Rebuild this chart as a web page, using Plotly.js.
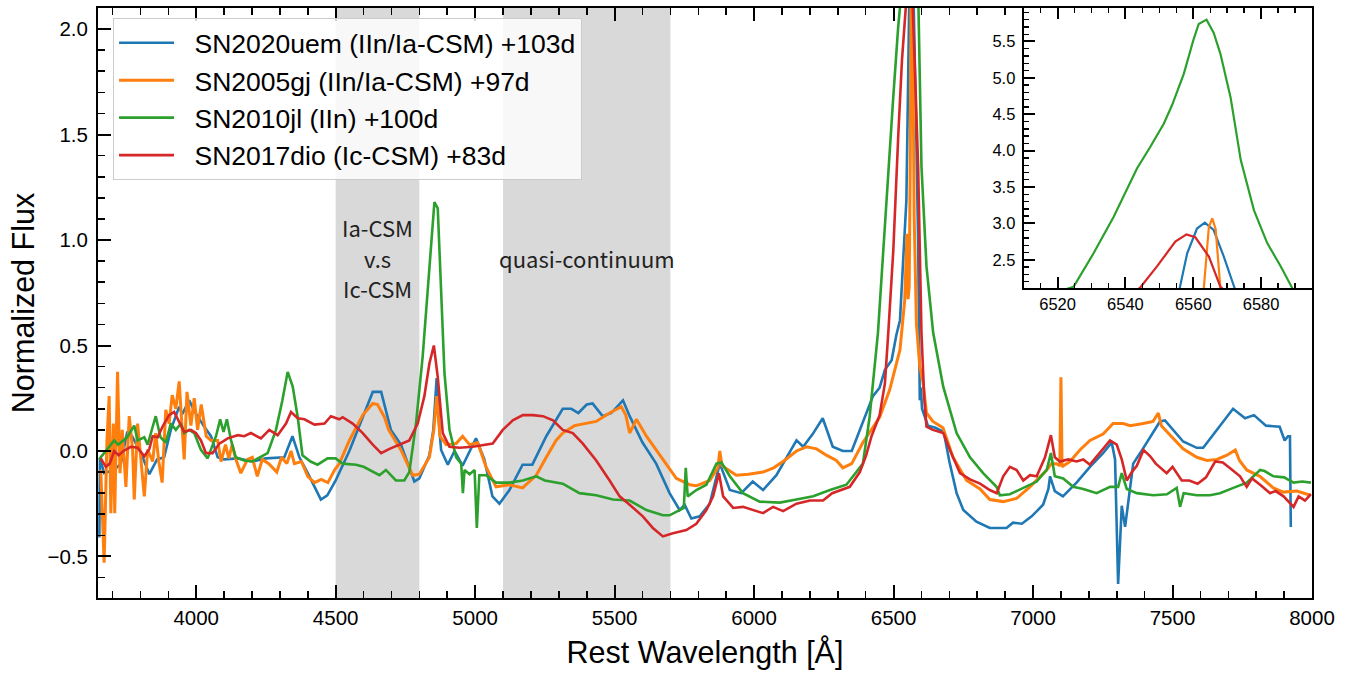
<!DOCTYPE html>
<html>
<head>
<meta charset="utf-8">
<script src="https://cdn.plot.ly/plotly-3.0.1.min.js"></script>
<style>
  html, body { margin: 0; padding: 0; background: #ffffff; }
  #chart { width: 1348px; height: 675px; }
</style>
</head>
<body>
<div id="chart"></div>
<script>
// ---------------- DATA ----------------
const seriesNames = [
  "SN2020uem (IIn/Ia-CSM) +103d",
  "SN2005gj (IIn/Ia-CSM) +97d",
  "SN2010jl (IIn) +100d",
  "SN2017dio (Ic-CSM) +83d"
];

// SN2020uem
const wl_2020uem = [3653,3655,3670,3706,3730,3752,3770,3802,3832,3860,3885,3909,3939,3950,3975,3993,4029,4053,4077,4100,4150,4200,4250,4316,4345,4370,4400,4447,4470,4500,4549,4597,4633,4663,4698,4734,4782,4800,4836,4850,4862,4872,4878,4902,4926,4955,5003,5033,5062,5087,5123,5170,5205,5255,5290,5314,5345,5370,5400,5421,5457,5488,5530,5554,5600,5649,5697,5733,5751,5775,5805,5841,5877,5913,5954,5995,6032,6080,6152,6176,6210,6246,6282,6318,6350,6372,6426,6450,6469,6493,6510,6523,6546,6556,6558.2,6561.1,6563.4,6566,6569,6572.2,6580,6588,6594,6598,6602,6623,6650,6680,6700,6726,6750,6797,6845,6905,6928,6960,6995,7036,7055,7061,7078,7107,7156,7204,7251,7282,7294,7305,7318,7330,7359,7384,7455,7473,7538,7587,7610,7659,7717,7760,7792,7835,7884,7902,7914,7921,7924];
const fl_2020uem = [-0.41,-0.035,-0.105,-0.09,-0.06,0.085,0.07,-0.01,-0.11,-0.04,-0.03,0.10,0.21,0.175,0.24,0.19,0.115,0.07,-0.03,-0.04,-0.035,-0.05,-0.035,-0.03,0.07,-0.03,-0.105,-0.23,-0.21,-0.14,0.0,0.16,0.28,0.28,0.10,0.03,-0.145,-0.13,-0.02,0.10,0.345,0.10,0.005,-0.065,0.0,-0.07,0.06,-0.04,-0.215,-0.25,-0.185,-0.065,-0.065,0.07,0.145,0.20,0.20,0.18,0.22,0.225,0.165,0.18,0.24,0.165,0.04,-0.06,-0.20,-0.28,-0.255,-0.32,-0.31,-0.25,-0.06,-0.185,-0.20,-0.145,-0.185,-0.115,0.05,0.02,0.08,0.155,0.02,0.0,0.0,0.075,0.26,0.30,0.385,0.43,0.55,0.62,1.19,2.11,2.59,2.93,3.01,2.91,2.545,2.11,1.6,1.0,0.24,0.30,0.20,0.12,0.11,0.09,-0.05,-0.20,-0.28,-0.335,-0.365,-0.365,-0.34,-0.345,-0.31,-0.255,-0.18,-0.12,-0.19,-0.215,-0.15,-0.075,-0.01,0.04,-0.04,-0.63,-0.26,-0.36,-0.06,-0.01,0.14,0.145,0.045,0.015,0.015,0.10,0.20,0.155,0.17,0.12,0.115,0.05,0.07,0.07,-0.36];

// SN2005gj
const wl_2005gj = [3658,3670,3680,3688,3694,3703,3708,3718,3727,3735,3748,3760,3772,3778,3790,3802,3814,3826,3844,3855,3866,3878,3891,3903,3914,3927,3939,3948,3957,3967,3981,3993,4005,4018,4036,4053,4077,4089,4105,4117,4129,4141,4160,4184,4201,4219,4237,4260,4289,4306,4325,4340,4352,4377,4400,4424,4448,4472,4496,4513,4549,4597,4633,4650,4675,4690,4734,4776,4800,4836,4852,4862,4874,4896,4932,4955,4980,5009,5039,5075,5123,5170,5219,5255,5290,5314,5356,5374,5434,5482,5524,5540,5554,5578,5614,5673,5721,5769,5793,5841,5870,5877,5885,5936,5980,6032,6070,6104,6152,6188,6224,6259,6295,6318,6350,6390,6420,6450,6486,6523,6540,6548,6552,6556,6560,6563.1,6564.6,6565.6,6566.6,6568,6574,6582,6594,6605,6618,6641,6677,6713,6762,6810,6845,6893,6941,6989,7049,7066,7084,7096,7100,7104,7132,7168,7204,7251,7287,7323,7348,7395,7430,7449,7460,7502,7538,7587,7623,7659,7695,7725,7740,7766,7813,7861,7897,7946,7994];
const fl_2005gj = [-0.09,-0.53,0.05,0.26,-0.295,0.13,-0.295,0.375,-0.105,0.10,-0.17,0.165,0.006,-0.23,0.13,-0.05,-0.215,0.006,-0.05,0.085,-0.05,-0.15,0.195,0.13,0.265,0.20,0.33,0.14,-0.04,0.28,0.12,0.25,0.10,0.22,0.07,0.05,0.05,-0.05,0.03,-0.035,0.03,-0.035,-0.105,-0.04,-0.03,-0.12,-0.04,-0.06,-0.10,-0.03,-0.06,0.0,-0.06,-0.05,-0.12,-0.15,-0.135,-0.15,-0.09,-0.06,0.05,0.17,0.225,0.22,0.16,0.10,0.005,-0.115,-0.11,-0.03,0.10,0.26,0.07,0.03,0.035,0.07,0.03,0.04,-0.075,-0.17,-0.16,-0.175,-0.115,-0.03,0.05,0.085,0.12,0.125,0.14,0.18,0.21,0.17,0.085,0.15,0.07,-0.04,-0.13,-0.16,-0.165,-0.14,-0.08,0.0,-0.07,-0.115,-0.11,-0.10,-0.08,-0.05,0.0,0.02,0.01,-0.02,-0.045,-0.08,-0.06,0.04,0.10,0.16,0.29,0.48,0.715,1.03,0.72,0.78,1.4,2.11,2.955,3.07,2.92,2.11,1.1,0.6,0.40,0.33,0.18,0.14,0.11,-0.03,-0.14,-0.18,-0.23,-0.24,-0.225,-0.17,-0.09,-0.06,-0.06,-0.07,0.35,-0.075,-0.05,0.005,0.05,0.08,0.13,0.13,0.12,0.13,0.14,0.18,0.12,0.06,0.01,-0.03,-0.045,-0.04,-0.02,0.005,-0.045,-0.09,-0.12,-0.175,-0.195,-0.19,-0.21];

// SN2010jl
const wl_2010jl = [3652,3679,3706,3720,3752,3778,3790,3814,3826,3843,3855,3872,3891,3909,3927,3945,3957,3975,3993,4017,4041,4071,4086,4098,4110,4125,4142,4172,4201,4256,4286,4309,4328,4346,4364,4381,4410,4435,4471,4500,4525,4573,4600,4657,4680,4716,4746,4764,4788,4812,4836,4854,4866,4878,4890,4908,4932,4950,4956,4962,4980,4998,5006,5015,5039,5075,5123,5171,5219,5250,5290,5314,5374,5434,5494,5554,5614,5673,5697,5733,5748,5755,5762,5793,5829,5865,5883,5913,5960,6020,6092,6152,6212,6272,6331,6390,6414,6444,6474,6498,6516,6524.7,6530.6,6536.5,6543.4,6547.3,6551.3,6553.7,6557.2,6560.1,6561.6,6563.9,6566,6568,6571,6574,6577.9,6581.8,6585.8,6589.2,6600,6618,6642,6678,6726,6774,6821,6869,6881,6917,6965,7013,7049,7064,7078,7108,7144,7180,7228,7276,7305,7318,7336,7372,7431,7480,7515,7527,7540,7587,7634,7670,7718,7766,7814,7830,7862,7900,7934,7965,7996];
const fl_2010jl = [-0.04,0.005,0.05,0.03,0.065,0.12,0.05,0.065,0.03,0.11,0.165,0.065,0.04,0.13,0.10,0.13,0.085,0.10,0.085,0.005,-0.035,0.07,0.15,0.09,0.15,0.05,-0.03,-0.045,-0.05,-0.01,0.10,0.24,0.375,0.305,0.16,-0.02,-0.05,-0.065,-0.035,-0.035,-0.06,-0.065,-0.075,-0.115,-0.09,-0.14,-0.14,-0.10,0.13,0.45,0.875,1.18,1.15,0.76,0.37,0.10,-0.03,-0.06,-0.20,-0.09,-0.11,-0.09,-0.365,-0.115,-0.115,-0.15,-0.15,-0.14,-0.12,-0.14,-0.15,-0.155,-0.20,-0.21,-0.23,-0.235,-0.28,-0.305,-0.305,-0.28,-0.27,-0.08,-0.215,-0.185,-0.16,-0.06,-0.055,-0.12,-0.20,-0.24,-0.245,-0.23,-0.215,-0.185,-0.16,-0.06,0.16,0.56,1.19,1.66,2.0,2.13,2.59,3.09,3.755,4.05,4.37,4.62,5.055,5.53,5.74,5.80,5.62,5.33,4.73,3.87,3.18,2.73,2.41,2.11,1.35,0.875,0.56,0.305,0.085,-0.03,-0.105,-0.17,-0.21,-0.205,-0.175,-0.145,-0.09,-0.01,-0.12,-0.13,-0.17,-0.18,-0.20,-0.17,-0.17,-0.105,-0.18,-0.20,-0.21,-0.205,-0.175,-0.265,-0.20,-0.21,-0.21,-0.20,-0.175,-0.15,-0.09,-0.095,-0.12,-0.125,-0.15,-0.145,-0.15];

// SN2017dio
const wl_2017dio = [3658,3676,3690,3706,3722,3739,3766,3790,3814,3832,3844,3862,3879,3903,3921,3939,3957,3981,3999,4017,4035,4059,4083,4113,4149,4172,4196,4232,4262,4292,4322,4340,4364,4388,4424,4460,4483,4513,4525,4561,4597,4633,4663,4693,4728,4764,4794,4818,4836,4852,4866,4884,4908,4944,4991,5030,5063,5099,5135,5171,5207,5243,5279,5314,5350,5386,5434,5482,5518,5554,5601,5637,5673,5709,5757,5793,5829,5853,5874,5889,5925,5960,5996,6032,6068,6104,6152,6200,6247,6280,6343,6379,6402,6421,6450,6469,6481,6499,6517,6530,6544.2,6549.3,6554.7,6558,6560.6,6564.6,6568,6578,6588,6600,6610,6618,6641,6678,6702,6738,6774,6810,6845,6870,6893,6917,6941,6965,6989,7013,7043,7064,7078,7096,7126,7156,7180,7204,7240,7276,7300,7318,7336,7354,7372,7396,7420,7440,7479,7500,7533,7560,7590,7620,7653,7680,7710,7742,7766,7785,7814,7850,7870,7898,7934,7952,7975,7996];
const fl_2017dio = [-0.035,-0.075,-0.06,0.0,-0.02,0.0,0.02,0.015,-0.025,0.01,0.07,0.065,0.115,0.17,0.185,0.14,0.09,0.10,0.085,0.05,-0.01,-0.01,0.035,0.06,0.075,0.07,0.085,0.06,0.10,0.075,0.13,0.185,0.155,0.15,0.125,0.13,0.165,0.15,0.16,0.13,0.085,0.03,-0.01,0.01,0.03,0.05,0.13,0.26,0.415,0.50,0.35,0.085,0.02,0.015,0.02,0.03,0.035,0.10,0.145,0.17,0.17,0.165,0.145,0.10,0.085,0.035,-0.045,-0.14,-0.215,-0.255,-0.31,-0.365,-0.405,-0.39,-0.375,-0.345,-0.28,-0.215,-0.105,-0.215,-0.27,-0.265,-0.28,-0.295,-0.265,-0.285,-0.25,-0.235,-0.235,-0.20,-0.17,-0.10,-0.02,0.07,0.17,0.32,0.56,0.95,1.5,1.85,2.11,2.41,2.75,2.85,2.81,2.545,2.13,1.75,1.35,0.56,0.25,0.115,0.10,0.085,0.005,-0.105,-0.135,-0.155,-0.185,-0.20,-0.12,-0.075,-0.09,-0.14,-0.115,-0.12,-0.03,0.075,-0.03,-0.05,-0.04,-0.05,-0.04,-0.065,-0.01,0.05,0.03,-0.04,-0.14,-0.10,-0.07,0.005,-0.025,-0.06,-0.105,-0.075,-0.14,-0.14,-0.155,-0.125,-0.05,-0.055,-0.085,-0.12,-0.17,-0.13,-0.16,-0.20,-0.19,-0.215,-0.265,-0.215,-0.235,-0.205];

const seriesColors = ["#1f77b4", "#ff7f0e", "#2ca02c", "#d62728"];
const seriesWidths = [2.6, 3.0, 2.6, 2.6];

// shaded wavelength bands
const bandStarts = [4500, 5100];
const bandEnds = [4800, 5700];

const mainXTicks = [4000, 4500, 5000, 5500, 6000, 6500, 7000, 7500, 8000];
const mainYTicks = [-0.5, 0.0, 0.5, 1.0, 1.5, 2.0];
const insetXTicks = [6520, 6540, 6560, 6580];
const insetYTicks = [2.5, 3.0, 3.5, 4.0, 4.5, 5.0, 5.5];

// ---------------- CHART ----------------
const waves = [wl_2020uem, wl_2005gj, wl_2010jl, wl_2017dio];
const fluxes = [fl_2020uem, fl_2005gj, fl_2010jl, fl_2017dio];

const FONT = "'Liberation Sans', Arial, Helvetica, sans-serif";
const ANNFONT = "'Noto Sans CJK JP', 'Noto Sans', sans-serif";

const traces = [];
for (let i = 0; i < 4; i++) {
  traces.push({
    type: "scatter", mode: "lines",
    x: waves[i], y: fluxes[i],
    name: "\u2002\u200A" + seriesNames[i],
    line: { color: seriesColors[i], width: seriesWidths[i] },
    xaxis: "x", yaxis: "y",
    hoverinfo: "skip"
  });
}
for (let i = 0; i < 4; i++) {
  traces.push({
    type: "scatter", mode: "lines",
    x: waves[i], y: fluxes[i],
    name: seriesNames[i],
    showlegend: false,
    line: { color: seriesColors[i], width: 2.2 },
    xaxis: "x2", yaxis: "y2",
    hoverinfo: "skip"
  });
}

const shapes = bandStarts.map((s, i) => ({
  type: "rect", xref: "x", yref: "y domain",
  x0: s, x1: bandEnds[i], y0: 0, y1: 1,
  fillcolor: "#d9d9d9", line: { width: 0 }, layer: "below"
}));

const annotations = [
  { x: 4650, y: 1.062, text: "Ia-CSM" },
  { x: 4650, y: 0.915, text: "v.s" },
  { x: 4650, y: 0.773, text: "Ic-CSM" },
  { x: 5400, y: 0.915, text: "quasi-continuum" }
].map(a => Object.assign({
  xref: "x", yref: "y", showarrow: false,
  xanchor: "center", yanchor: "middle",
  font: { family: ANNFONT, size: 22, color: "#222222" }
}, a));

const axisCommon = {
  showgrid: false, zeroline: false,
  showline: true, linecolor: "#000000", linewidth: 2,
  ticks: "inside", tickcolor: "#000000"
};

const layout = {
  width: 1348, height: 675,
  margin: { l: 98, r: 36, t: 8, b: 77, pad: 0 },
  paper_bgcolor: "#ffffff", plot_bgcolor: "#ffffff",
  font: { family: FONT, color: "#000000" },
  showlegend: true,
  legend: {
    x: 0.0124, y: 0.983, xanchor: "left", yanchor: "top",
    bgcolor: "rgba(255,255,255,0.82)", bordercolor: "#cccccc", borderwidth: 1,
    font: { family: FONT, size: 26.5, color: "#000000" },
    itemwidth: 55, tracegroupgap: 0
  },
  xaxis: Object.assign({}, axisCommon, {
    domain: [0, 1], anchor: "y",
    range: [3648, 8000],
    mirror: "ticks",
    tickmode: "array", tickvals: mainXTicks,
    ticklen: 13, tickwidth: 2,
    tickfont: { family: FONT, size: 20.5 },
    minor: { ticks: "inside", ticklen: 7, tickwidth: 1.6, dtick: 100, tick0: 4000, tickcolor: "#000000", showgrid: false },
    title: { text: "Rest Wavelength [Å]", font: { family: FONT, size: 30.5 }, standoff: 14 }
  }),
  yaxis: Object.assign({}, axisCommon, {
    domain: [0, 1], anchor: "x",
    range: [-0.697, 2.10],
    mirror: true,
    tickmode: "array", tickvals: mainYTicks, tickformat: ".1f",
    ticklen: 13, tickwidth: 2,
    tickfont: { family: FONT, size: 20.5 },
    ticklabelstandoff: 4,
    minor: { ticks: "inside", ticklen: 7, tickwidth: 1.6, dtick: 0.1, tick0: 0, tickcolor: "#000000", showgrid: false },
    title: { text: "Normalized Flux", font: { family: FONT, size: 30.5 }, standoff: 4 }
  }),
  xaxis2: Object.assign({}, axisCommon, {
    domain: [0.7625, 1], anchor: "y2",
    range: [6510, 6595],
    mirror: "ticks",
    tickmode: "array", tickvals: insetXTicks,
    ticklen: 11, tickwidth: 2,
    tickfont: { family: FONT, size: 16.5 },
    minor: { ticks: "inside", ticklen: 5, tickwidth: 1.4, dtick: 5, tick0: 6510, tickcolor: "#000000", showgrid: false }
  }),
  yaxis2: Object.assign({}, axisCommon, {
    domain: [0.525, 1], anchor: "x2",
    range: [2.11, 5.96],
    mirror: true,
    tickmode: "array", tickvals: insetYTicks, tickformat: ".1f",
    ticklen: 11, tickwidth: 2,
    tickfont: { family: FONT, size: 16.5 },
    ticklabelstandoff: 3,
    minor: { ticks: "inside", ticklen: 5, tickwidth: 1.4, dtick: 0.1, tick0: 2.0, tickcolor: "#000000", showgrid: false }
  }),
  shapes: shapes,
  annotations: annotations
};

Plotly.newPlot("chart", traces, layout, { staticPlot: true, displayModeBar: false });
</script>
</body>
</html>
